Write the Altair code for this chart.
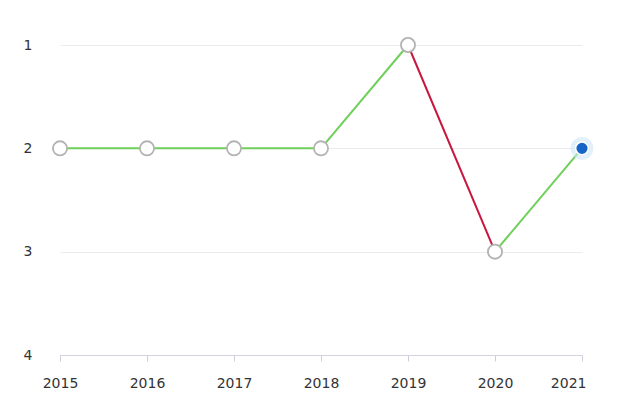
import altair as alt
import pandas as pd

years = [2015, 2016, 2017, 2018, 2019, 2020, 2021]
ranks = [2, 2, 2, 2, 1, 3, 2]

pts = pd.DataFrame({"year": years, "rank": ranks})
seg = pd.DataFrame({
    "year": years[:-1], "rank": ranks[:-1],
    "year2": years[1:], "rank2": ranks[1:],
})
seg["dir"] = ["down" if b > a else "up" for a, b in zip(seg["rank"], seg["rank2"])]
last = pts.tail(1)

xs = alt.Scale(domain=[2015, 2021], nice=False, zero=False)
ys = alt.Scale(domain=[1, 4], reverse=True, nice=False, zero=False)

xaxis = alt.Axis(values=years, format="d", grid=False, tickColor="#d0ccdc", tickSize=6,
                 domainColor="#d6d3e0", labelColor="#333333", labelFont="DejaVu Sans",
                 labelFontSize=14, labelPadding=15, title=None, labelFlush=False,
                 labelAlign=alt.condition("datum.value == 2021", alt.value("right"), alt.value("center")),
                 labelOffset=alt.condition("datum.value == 2021", alt.value(4), alt.value(0)))
yaxis = alt.Axis(values=[1, 2, 3, 4], format="d", domain=False, ticks=False, gridColor="#ebebeb",
                 labelColor="#333333", labelFont="DejaVu Sans", labelFontSize=14,
                 labelPadding=28, title=None)

lines = alt.Chart(seg).mark_rule(strokeWidth=2).encode(
    x=alt.X("year:Q", scale=xs, axis=xaxis),
    y=alt.Y("rank:Q", scale=ys, axis=yaxis),
    x2="year2:Q", y2="rank2:Q",
    color=alt.Color("dir:N", scale=alt.Scale(domain=["up", "down"], range=["#6fcf5a", "#c9163e"]), legend=None),
)

points = alt.Chart(pts.head(6)).mark_point(filled=True, fill="white", stroke="#b3b3b3", strokeWidth=1.8,
                                              size=200, opacity=1).encode(
    x=alt.X("year:Q", scale=xs), y=alt.Y("rank:Q", scale=ys))

halo = alt.Chart(last).mark_point(filled=True, color="#cfe6f7", size=520, opacity=0.6).encode(
    x=alt.X("year:Q", scale=xs), y=alt.Y("rank:Q", scale=ys))
blue = alt.Chart(last).mark_point(filled=True, fill="#1565c8", stroke="white", strokeWidth=1.5,
                                  size=160, opacity=1).encode(
    x=alt.X("year:Q", scale=xs), y=alt.Y("rank:Q", scale=ys))

chart = alt.layer(lines, points, halo, blue).properties(
    width=522, height=310,
    autosize=alt.AutoSizeParams(type="none"),
    padding={"left": 52, "top": 37, "right": 40, "bottom": 40},
).configure(background="white", view={"stroke": None}, axisX={"grid": False})

chart.save("out.html", embed_options={"renderer": "svg", "actions": False})
